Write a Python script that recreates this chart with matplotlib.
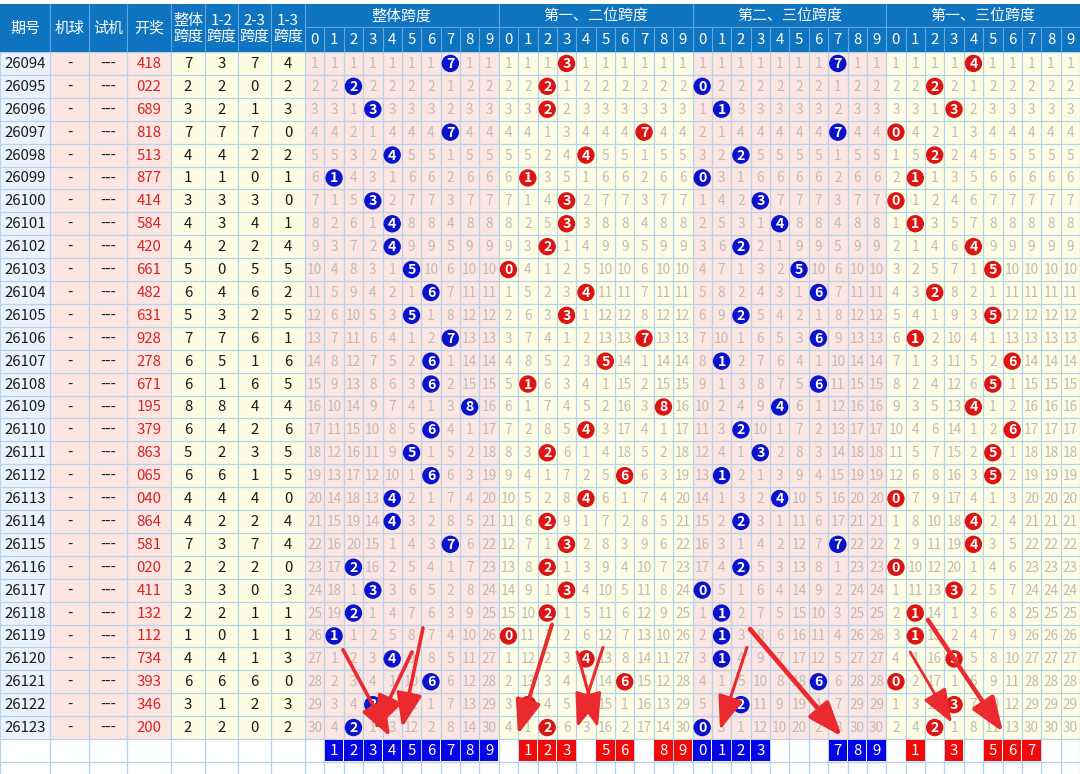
import matplotlib
matplotlib.use('Agg')
import matplotlib.pyplot as plt
from matplotlib.patches import Rectangle, Circle

plt.rcParams['font.family'] = ['Noto Sans CJK SC', 'DejaVu Sans']

# data
issues = [26094, 26095, 26096, 26097, 26098, 26099, 26100, 26101, 26102, 26103,
          26104, 26105, 26106, 26107, 26108, 26109, 26110, 26111, 26112, 26113,
          26114, 26115, 26116, 26117, 26118, 26119, 26120, 26121, 26122, 26123]
draws = ['418', '022', '689', '818', '513', '877', '414', '584', '420', '661',
         '482', '631', '928', '278', '671', '195', '379', '863', '065', '040',
         '864', '581', '020', '411', '132', '112', '734', '393', '346', '200']
span_all = [7, 2, 3, 7, 4, 1, 3, 4, 4, 5, 6, 5, 7, 6, 6, 8, 6, 5, 6, 4, 4, 7, 2, 3, 2, 1, 4, 6, 3, 2]
span_12 = [3, 2, 2, 7, 4, 1, 3, 3, 2, 0, 4, 3, 7, 5, 1, 8, 4, 2, 6, 4, 2, 3, 2, 3, 2, 0, 4, 6, 1, 2]
span_23 = [7, 0, 1, 7, 2, 0, 3, 4, 2, 5, 6, 2, 6, 1, 6, 4, 2, 3, 1, 4, 2, 7, 2, 0, 1, 1, 1, 6, 2, 0]
span_13 = [4, 2, 3, 0, 2, 1, 0, 1, 4, 5, 2, 5, 1, 6, 5, 4, 6, 5, 5, 0, 4, 4, 0, 3, 1, 1, 3, 0, 3, 2]

# picks marked in the bottom row
pick_all = [1, 2, 3, 4, 5, 6, 7, 8, 9]
pick_12 = [1, 2, 3, 5, 6, 8, 9]
pick_23 = [0, 1, 2, 3, 7, 8, 9]
pick_13 = [1, 3, 5, 6, 7]

group_names = ['整体跨度', '第一、二位跨度', '第二、三位跨度', '第一、三位跨度']
left_heads = ['期号', '机球', '试机', '开奖', '整体\n跨度', '1-2\n跨度', '2-3\n跨度', '1-3\n跨度']

# red arrows drawn on the screenshot, in (trend column, row) units: start -> tip, width
arrows = [((1.96, 26.1), (4.39, 29.9), 2.6), ((5.52, 26.2), (3.61, 29.6), 2.6),
          ((6.09, 25.15), (5.01, 29.5), 2.6), ((12.75, 25.0), (10.99, 29.8), 2.8),
          ((15.38, 26.0), (14.04, 29.5), 2.2), ((14.04, 26.2), (15.12, 29.5), 2.2),
          ((22.81, 26.0), (21.42, 29.6), 2.2), ((22.97, 25.2), (27.72, 29.9), 3.4),
          ((31.23, 26.2), (33.39, 29.3), 2.0), ((32.15, 24.8), (36.03, 29.7), 3.2)]

# layout (pixels)
W, H = 1080, 774
left_edges = [0, 50, 89, 127, 171, 205, 238, 271, 305]
tx0, cw = 305, (1080 - 305) / 40
ytop, yh1, y0, rh = 4, 27, 52, 22.9
nrows = len(issues)

HEAD = '#0f74c0'
HLINE = '#62a6dd'
GRID = '#b5d3ec'
PINK = '#fde5e2'
YEL = '#fdfde3'
OMIT = '#bcbcbc'
BLUE = '#0b12cc'
RED = '#dd1414'
BOXB = '#0505e6'
BOXR = '#f00a0a'

fig = plt.figure(figsize=(10.8, 7.74), dpi=100)
ax = fig.add_axes([0, 0, 1, 1])
ax.set_xlim(0, W)
ax.set_ylim(H, 0)
ax.axis('off')

def tx(c):
    return tx0 + c * cw

def ry(r):
    return y0 + r * rh

ybody_end = ry(nrows)

# body backgrounds
left_bg = ['#eaf3fc', PINK, PINK, PINK, YEL, YEL, YEL, YEL]
for i, col in enumerate(left_bg):
    ax.add_patch(Rectangle((left_edges[i], y0), left_edges[i + 1] - left_edges[i],
                           ybody_end - y0, color=col, lw=0))
for g in range(4):
    ax.add_patch(Rectangle((tx(g * 10), y0), 10 * cw, ybody_end - y0,
                           color=PINK if g % 2 == 0 else YEL, lw=0))

# body grid
xs_all = left_edges + [tx(c) for c in range(1, 41)]
ax.vlines(xs_all, y0, H, color=GRID, lw=0.9, zorder=1)
ax.hlines([ry(r) for r in range(0, 33)], 0, W, color=GRID, lw=0.9, zorder=1)

# header
ax.add_patch(Rectangle((0, ytop), W, y0 - ytop, color=HEAD, lw=0, zorder=2))
ax.vlines(left_edges[1:], ytop, y0, color=HLINE, lw=0.8, zorder=3)
ax.vlines([tx(g * 10) for g in range(1, 4)], ytop, y0, color=HLINE, lw=0.8, zorder=3)
ax.vlines([tx(c) for c in range(1, 40) if c % 10], yh1, y0, color=HLINE, lw=0.8, zorder=3)
ax.hlines(yh1, tx0, W, color=HLINE, lw=0.8, zorder=3)
for i, t in enumerate(left_heads):
    xc = (left_edges[i] + left_edges[i + 1]) / 2
    ax.text(xc, (ytop + y0) / 2 + 1, t, color='white', fontsize=10.8, ha='center',
            va='center', linespacing=1.2, zorder=4)
for g, name in enumerate(group_names):
    ax.text(tx(g * 10 + 5), (ytop + yh1) / 2 + 1, name, color='white', fontsize=10.8,
            ha='center', va='center', zorder=4)
    for d in range(10):
        ax.text(tx(g * 10 + d + 0.5), (yh1 + y0) / 2 + 1, str(d), color='white',
                fontsize=10.8, ha='center', va='center', zorder=4)

# left columns
for r in range(nrows):
    yc = ry(r + 0.5) + 0.5
    vals = [str(issues[r]), '-', '---', draws[r], str(span_all[r]), str(span_12[r]),
            str(span_23[r]), str(span_13[r])]
    for i, v in enumerate(vals):
        xc = (left_edges[i] + left_edges[i + 1]) / 2
        ax.text(xc, yc, v, fontsize=10.8, ha='center', va='center',
                color='#d42424' if i == 3 else '#1a1a1a', zorder=4)

# trend groups: omission counts and hit balls
groups = [(span_all, BLUE, pick_all, BOXB), (span_12, RED, pick_12, BOXR),
          (span_23, BLUE, pick_23, BOXB), (span_13, RED, pick_13, BOXR)]
for g, (vals, ball, picks, boxc) in enumerate(groups):
    miss = [0] * 10
    for r, v in enumerate(vals):
        yc = ry(r + 0.5)
        for d in range(10):
            xc = tx(g * 10 + d + 0.5)
            if d == v:
                miss[d] = 0
                ax.add_patch(Circle((xc, yc), 8.7, color=ball, lw=0, zorder=5))
                ax.text(xc, yc + 0.5, str(d), color='white', fontsize=10.2,
                        fontweight='bold', ha='center', va='center', zorder=6)
            else:
                miss[d] += 1
                ax.text(xc, yc + 0.5, str(miss[d]), color=OMIT, fontsize=9.8,
                        ha='center', va='center', zorder=4)
    for d in picks:
        x = tx(g * 10 + d)
        ax.add_patch(Rectangle((x + 0.5, ry(nrows) + 0.5), cw - 1, rh - 1,
                               color=boxc, lw=0, zorder=5))
        ax.text(x + cw / 2, ry(nrows + 0.5) + 0.5, str(d), color='white', fontsize=10.8,
                ha='center', va='center', zorder=6)

# red arrows
for (c0, r0), (c1, r1), lw in arrows:
    ax.annotate('', xy=(tx(c1), ry(r1)), xytext=(tx(c0), ry(r0)),
                arrowprops=dict(arrowstyle='-|>,head_length=1.6,head_width=0.6',
                                color='#ea2a2e', lw=lw, mutation_scale=13,
                                shrinkA=0, shrinkB=0), zorder=8)

fig.savefig('out.png', dpi=100)
